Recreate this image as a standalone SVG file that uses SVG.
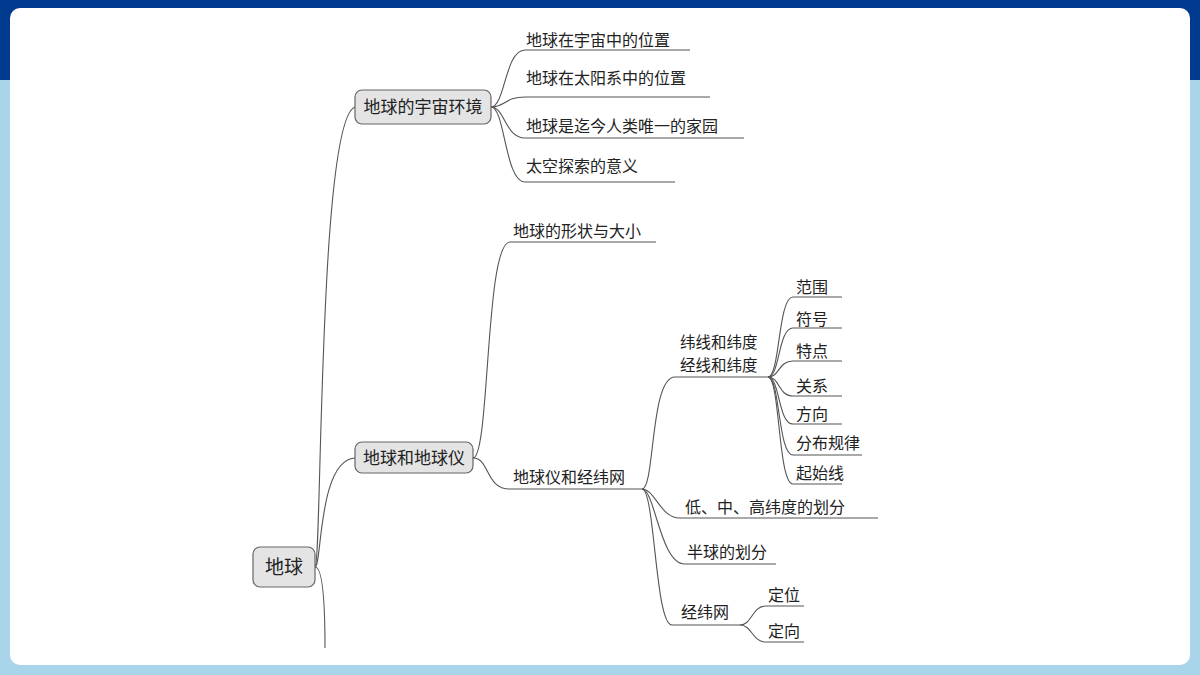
<svg xmlns="http://www.w3.org/2000/svg" width="1200" height="675" viewBox="0 0 1200 675">
<style>
text{font-family:"Noto Sans CJK SC","Liberation Sans",sans-serif;fill:#222;font-size:16px}
.box{fill:#e4e4e4;stroke:#666;stroke-width:1.2}
.c path{fill:none;stroke:#555;stroke-width:1.1}
</style>
<rect width="1200" height="675" fill="#a9d5ea"/>
<rect width="1200" height="80" fill="#003a8f"/>
<rect x="10" y="8" width="1180" height="657" rx="10" fill="#fff"/>
<g class="c">
<path d="M315,567 C322,567 318,120 355,107"/>
<path d="M315,567 C322,567 318,460 355,458"/>
<path d="M315,567 C322,567 325,600 325,648"/>
<path d="M491,107 C505,107 505,50 525,50 H690"/>
<path d="M491,107 C505,107 505,97 525,97 H710"/>
<path d="M491,107 C505,107 505,138 525,138 H744"/>
<path d="M491,107 C505,107 505,182 525,182 H675"/>
<path d="M473,458 C490,458 485,242 510,242 H656"/>
<path d="M473,458 C490,458 485,489 510,489 H642"/>
<path d="M642,489 C655,489 650,377 675,377 H768"/>
<path d="M642,489 C655,489 660,518 680,518 H878"/>
<path d="M642,489 C655,489 660,564 685,564 H776"/>
<path d="M642,489 C655,489 655,625 672,625 H740"/>
<path d="M768,377 C780,377 778,297 793,297 H842"/>
<path d="M768,377 C780,377 778,328 793,328 H842"/>
<path d="M768,377 C780,377 778,361 793,361 H842"/>
<path d="M768,377 C780,377 778,396 793,396 H842"/>
<path d="M768,377 C780,377 778,424 793,424 H842"/>
<path d="M768,377 C780,377 778,455 793,455 H862"/>
<path d="M768,377 C780,377 778,484 793,484 H842"/>
<path d="M740,625 C752,625 752,606 766,606 H804"/>
<path d="M740,625 C752,625 752,642 766,642 H804"/>
</g>
<g id="root"><rect class="box" x="253" y="547" width="62" height="40" rx="7"/><text x="284" y="574" text-anchor="middle" style="font-size:19px">地球</text></g>
<g id="n1"><rect class="box" x="355" y="90" width="136" height="34" rx="7"/><text x="423" y="113" text-anchor="middle" style="font-size:17px">地球的宇宙环境</text></g>
<g id="n2"><rect class="box" x="355" y="442" width="118" height="31" rx="7"/><text x="414" y="464" text-anchor="middle" style="font-size:17px">地球和地球仪</text></g>
<g id="leaves">
<text x="526" y="46">地球在宇宙中的位置</text>
<text x="526" y="84">地球在太阳系中的位置</text>
<text x="526" y="132">地球是迄今人类唯一的家园</text>
<text x="526" y="172">太空探索的意义</text>
<text x="513" y="237">地球的形状与大小</text>
<text x="513" y="483">地球仪和经纬网</text>
<text x="680" y="348" style="font-size:15.5px">纬线和纬度</text>
<text x="680" y="371" style="font-size:15.5px">经线和纬度</text>
<text x="685" y="513">低、中、高纬度的划分</text>
<text x="687" y="558">半球的划分</text>
<text x="681" y="618">经纬网</text>
<text x="796" y="293">范围</text>
<text x="796" y="325">符号</text>
<text x="796" y="357">特点</text>
<text x="796" y="392">关系</text>
<text x="796" y="420">方向</text>
<text x="796" y="449">分布规律</text>
<text x="796" y="479">起始线</text>
<text x="768" y="601">定位</text>
<text x="768" y="637">定向</text>
</g>
</svg>
